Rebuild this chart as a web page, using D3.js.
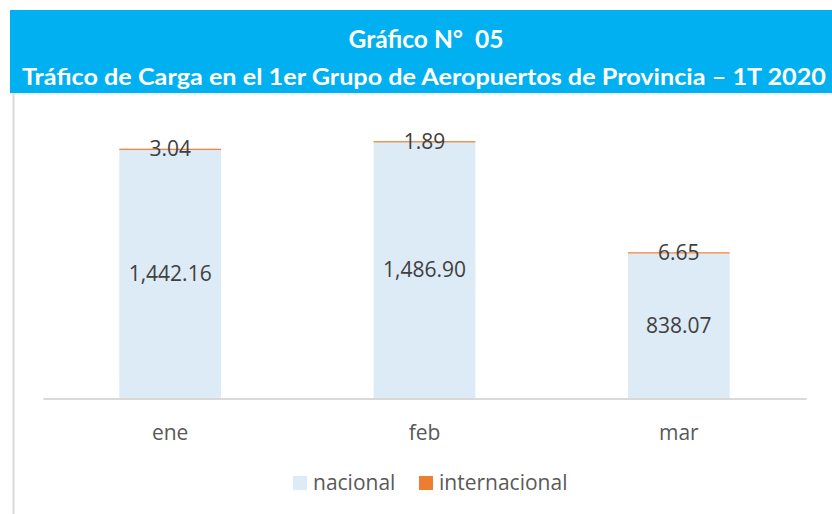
<!DOCTYPE html>
<html><head><meta charset="utf-8">
<script src="https://cdn.jsdelivr.net/npm/d3@7"></script>
<style>
html,body{margin:0;padding:0;background:#fff;}
svg{display:block;}
</style></head>
<body><svg id="c" width="832" height="514"></svg>
<script>
const titleLine1 = "Gráfico N°  05";
const titleLine2 = "Tráfico de Carga en el 1er Grupo de Aeropuertos de Provincia – 1T 2020";
const categories = ["ene", "feb", "mar"];
const nacional = [1442.16, 1486.90, 838.07];
const internacional = [3.04, 1.89, 6.65];
const seriesNames = ["nacional", "internacional"];
const seriesColors = ["#DDEBF7", "#ED7D31"];

const svg = d3.select("#c");
const font = "'Open Sans', Lato, sans-serif";
const tfont = "Lato, 'Open Sans', sans-serif";

// header
svg.append("rect").attr("x",10).attr("y",10).attr("width",822).attr("height",83).attr("fill","#00B0F0");
svg.append("text").attr("x",426).attr("y",48).attr("text-anchor","middle")
  .attr("fill","#fff").attr("font-family",tfont).attr("font-weight","bold").attr("font-size",24)
  .attr("textLength",155).attr("lengthAdjust","spacingAndGlyphs")
  .style("white-space","pre").text(titleLine1);
svg.append("text").attr("x",424).attr("y",85).attr("text-anchor","middle")
  .attr("fill","#fff").attr("font-family",tfont).attr("font-weight","bold").attr("font-size",22)
  .attr("textLength",804).attr("lengthAdjust","spacingAndGlyphs")
  .text(titleLine2);

// frame lines
svg.append("line").attr("x1",13.5).attr("x2",13.5).attr("y1",93).attr("y2",514).attr("stroke","#d9d9d9").attr("stroke-width",2);
svg.append("line").attr("x1",10).attr("x2",832).attr("y1",94).attr("y2",94).attr("stroke","#e4e4e4").attr("stroke-width",1);

const x = d3.scaleBand().domain(categories).range([43, 806]).padding(0);
const y = d3.scaleLinear().domain([0, 1600]).range([398, 122]);
const barW = x.bandwidth() * 0.4;

const stackData = categories.map((c,i)=>({cat:c, nacional:nacional[i], internacional:internacional[i]}));
const stack = d3.stack().keys(seriesNames)(stackData);

const g = svg.append("g");
stack.forEach((s, si) => {
  g.selectAll(null).data(s).enter().append("rect")
    .attr("x", d => x(d.data.cat) + x.bandwidth()/2 - barW/2)
    .attr("width", barW)
    .attr("y", d => y(d[1]))
    .attr("height", d => Math.max(y(d[0]) - y(d[1]), si===1 ? 1.2 : 0))
    .attr("fill", seriesColors[si]);
});

// axis baseline
const axis = d3.axisBottom(x).tickSize(0).tickPadding(0);
const ax = svg.append("g").attr("transform","translate(0,398.5)").call(axis);
ax.select(".domain").attr("stroke","#d9d9d9").attr("stroke-width",2);
ax.selectAll("text").attr("font-family",font).attr("font-size",21).attr("fill","#595959").attr("dy",0).attr("y",41);

// labels
const fmt = d3.format(",.2f");
stack.forEach((s, si) => {
  g.selectAll(null).data(s).enter().append("text")
    .attr("x", d => x(d.data.cat) + x.bandwidth()/2)
    .attr("y", d => (y(d[0]) + y(d[1]))/2 + 7.5)
    .attr("text-anchor","middle").attr("font-family",font).attr("font-size",21).attr("fill","#404040")
    .text(d => fmt(d[1]-d[0]));
});

// legend
const legX = [293, 419];
seriesNames.forEach((n,i)=>{
  svg.append("rect").attr("x",legX[i]).attr("y",476).attr("width",14).attr("height",14).attr("fill",seriesColors[i]);
  svg.append("text").attr("x",legX[i]+20).attr("y",490).attr("font-family",font).attr("font-size",21).attr("fill","#595959").text(n);
});
</script></body></html>
